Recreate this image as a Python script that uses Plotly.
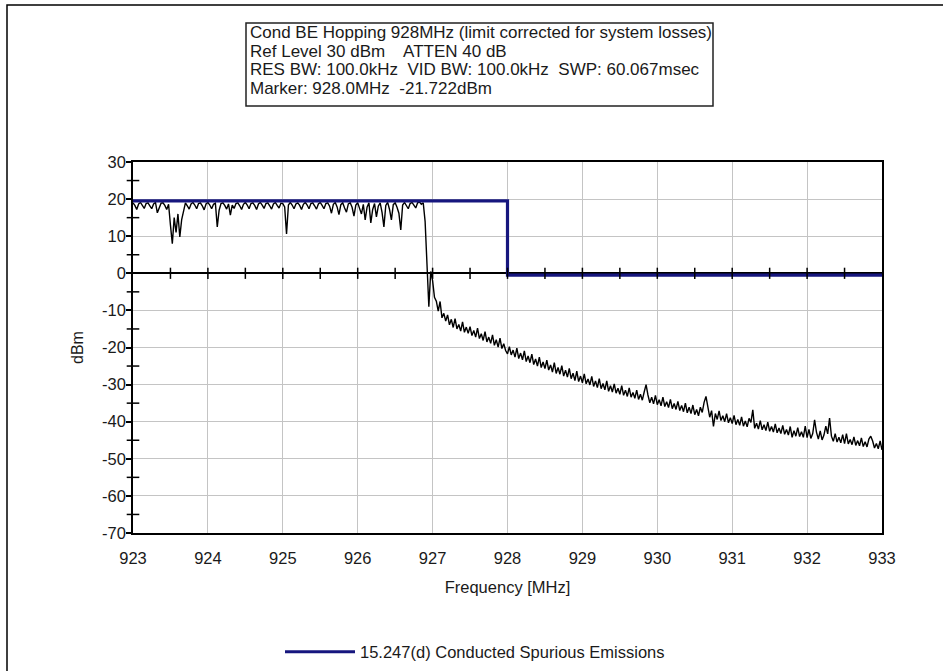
import numpy as np
import plotly.graph_objects as go

# ---------------- data ----------------
F_START, F_STOP, N_POINTS = 923.0, 933.0, 401
SPECTRUM_DBM = [
    # 923.000 - 923.475
    19.0, 18.3, 17.2, 18.7, 19.1, 18.4, 17.5, 18.8, 19.0, 18.2, 17.4, 18.7, 19.1, 16.3, 17.8, 18.9, 19.0, 18.3, 17.2, 18.6,
    # 923.500 - 923.975
    13.0, 8.0, 15.0, 11.0, 16.0, 9.8, 14.5, 17.2, 19.0, 18.2, 17.3, 18.7, 19.1, 18.4, 17.4, 18.8, 19.0, 18.2, 17.1, 18.7,
    # 924.000 - 924.475
    19.1, 18.4, 17.4, 18.6, 18.9, 12.5, 17.0, 18.8, 19.0, 18.3, 17.3, 18.7, 15.7, 18.4, 17.5, 18.8, 19.0, 18.2, 17.2, 18.6,
    # 924.500 - 924.975
    19.1, 18.4, 17.4, 18.8, 19.0, 18.3, 17.2, 18.7, 19.1, 18.4, 17.5, 18.8, 19.0, 18.2, 17.3, 18.7, 19.1, 18.3, 17.6, 18.9,
    # 925.000 - 925.475
    18.8, 17.9, 10.6, 18.4, 19.1, 18.4, 17.4, 18.7, 19.0, 18.3, 17.2, 18.6, 19.1, 18.4, 17.4, 18.8, 19.0, 18.2, 17.3, 18.7,
    # 925.500 - 925.975
    19.1, 18.3, 17.4, 18.8, 19.0, 18.1, 16.2, 18.6, 19.1, 17.9, 15.8, 18.5, 19.0, 17.6, 16.5, 18.7, 19.0, 17.8, 15.4, 18.4,
    # 926.000 - 926.475
    19.0, 17.5, 16.0, 18.6, 14.4, 17.8, 19.0, 13.6, 17.2, 18.8, 15.2, 18.1, 19.0, 16.4, 12.5, 18.3, 19.1, 17.2, 14.4, 18.5,
    # 926.500 - 926.975
    19.0, 17.8, 16.2, 11.7, 18.4, 19.1, 18.2, 17.4, 18.8, 19.1, 18.4, 17.6, 19.0, 19.2, 18.6, 19.0, 14.0, 3.5, -9.0, 0.5,
    # 927.000 - 927.475
    -2.0, -6.5, -7.5, -10.2, -7.6, -12.0, -10.8, -12.9, -11.2, -13.9, -12.4, -14.6, -12.2, -15.0, -13.8, -15.6, -13.1, -15.9, -14.5, -16.2,
    # 927.500 - 927.975
    -14.4, -16.8, -15.4, -17.2, -14.8, -17.6, -16.3, -18.1, -15.7, -18.5, -17.2, -18.9, -16.6, -19.4, -17.9, -19.9, -17.5, -20.3, -19.0, -20.8,
    # 928.000 - 928.475
    -21.7, -19.8, -22.0, -20.7, -22.6, -20.2, -23.0, -21.5, -23.3, -20.9, -23.8, -22.3, -24.1, -21.8, -24.6, -23.1, -25.0, -22.6, -25.4, -23.9,
    # 928.500 - 928.975
    -25.7, -23.4, -26.1, -24.7, -26.6, -24.1, -27.0, -25.4, -27.2, -24.9, -27.7, -26.1, -28.0, -25.6, -28.4, -26.9, -28.9, -26.4, -29.2, -27.7,
    # 929.000 - 929.475
    -29.5, -27.1, -29.8, -28.5, -30.1, -27.8, -30.5, -29.0, -30.8, -28.4, -31.1, -29.7, -31.4, -29.0, -31.8, -30.3, -32.0, -29.8, -32.3, -31.0,
    # 929.500 - 929.975
    -32.6, -30.3, -32.9, -31.5, -33.2, -30.9, -33.4, -32.1, -33.7, -31.5, -34.0, -32.6, -34.2, -32.0, -30.0, -32.8, -34.9, -33.4, -35.2, -32.9,
    # 930.000 - 930.475
    -35.4, -34.1, -35.7, -33.4, -35.9, -34.6, -36.2, -34.0, -36.5, -35.1, -36.7, -34.5, -37.0, -35.6, -37.3, -35.0, -37.6, -36.1, -37.8, -35.5,
    # 930.500 - 930.975
    -38.1, -36.7, -38.4, -36.1, -37.5, -34.8, -33.2, -36.0, -38.8, -37.0, -41.3, -37.8, -39.4, -37.1, -39.7, -38.4, -40.0, -37.8, -40.3, -38.9,
    # 931.000 - 931.475
    -40.5, -38.3, -40.8, -39.4, -41.0, -38.7, -41.2, -39.8, -41.4, -39.1, -40.2, -36.8, -41.8, -40.4, -42.0, -39.7, -42.2, -40.8, -42.4, -40.1,
    # 931.500 - 931.975
    -42.6, -41.3, -42.8, -40.6, -43.0, -41.7, -43.2, -41.0, -43.4, -42.1, -43.6, -41.3, -44.2, -42.4, -43.9, -41.6, -44.0, -42.7, -44.2, -41.2,
    # 932.000 - 932.475
    -44.3, -42.1, -44.5, -43.2, -39.5, -42.8, -44.7, -42.5, -44.9, -43.6, -41.2, -43.3, -39.0, -43.9, -45.3, -43.2, -45.5, -44.2, -45.7, -43.5,
    # 932.500 - 932.975
    -45.9, -43.2, -46.0, -44.8, -46.2, -44.1, -46.4, -45.1, -46.5, -44.4, -46.7, -45.4, -46.8, -44.7, -43.9, -45.2, -47.1, -45.9, -47.3, -45.2,
    # 933.000
    -47.6,
]
FREQ_MHZ = np.linspace(F_START, F_STOP, N_POINTS)

LIMIT_FREQ = [923.0, 928.0, 928.0, 933.0]
LIMIT_DBM = [19.5, 19.5, -0.5, -0.5]
LIMIT_NAME = "15.247(d) Conducted Spurious Emissions"

X_TICKS = [923, 924, 925, 926, 927, 928, 929, 930, 931, 932, 933]
Y_TICKS = [30, 20, 10, 0, -10, -20, -30, -40, -50, -60, -70]
X_HALF_TICKS = [923.5, 924, 924.5, 925, 925.5, 926, 926.5, 927, 927.5, 928, 928.5,
                929, 929.5, 930, 930.5, 931, 931.5, 932, 932.5]
Y_MINOR_TICKS = [25, 15, 5, -5, -15, -25, -35, -45, -55, -65]

INFO_LINES = [
    "Cond BE Hopping 928MHz (limit corrected for system losses)",
    "Ref Level 30 dBm    ATTEN 40 dB",
    "RES BW: 100.0kHz  VID BW: 100.0kHz  SWP: 60.067msec",
    "Marker: 928.0MHz  -21.722dBm",
]

# ---------------- layout geometry (pixels) ----------------
W, H = 943, 671
L, R, T, B = 133, 61, 162, 138
PW, PH = W - L - R, H - T - B


def px(xp):
    return (xp - L) / PW


def py(yp):
    return (H - B - yp) / PH


FONT = "Liberation Sans, Arial, sans-serif"
NAVY = "#16167e"

fig = go.Figure()

fig.add_trace(go.Scatter(
    x=FREQ_MHZ, y=SPECTRUM_DBM, mode="lines",
    line=dict(color="black", width=1.4), showlegend=False, hoverinfo="skip"))

fig.add_trace(go.Scatter(
    x=LIMIT_FREQ, y=LIMIT_DBM, mode="lines", name=LIMIT_NAME,
    line=dict(color=NAVY, width=3.2)))

# tick marks on the zero line
fig.add_trace(go.Scatter(
    x=X_HALF_TICKS, y=[0] * len(X_HALF_TICKS), mode="markers",
    marker=dict(symbol="line-ns", size=8, line=dict(color="black", width=1.5)),
    showlegend=False, hoverinfo="skip"))

# minor ticks crossing the left axis
fig.add_trace(go.Scatter(
    x=[F_START] * len(Y_MINOR_TICKS), y=Y_MINOR_TICKS, mode="markers",
    marker=dict(symbol="line-ew", size=9, line=dict(color="black", width=1.5)),
    showlegend=False, hoverinfo="skip", cliponaxis=False))

fig.update_layout(
    width=W, height=H,
    margin=dict(l=L, r=R, t=T, b=B, autoexpand=False),
    paper_bgcolor="white", plot_bgcolor="white",
    font=dict(family=FONT, size=16, color="#1a1a1a"),
    showlegend=True,
    legend=dict(x=px(280), y=py(652), xanchor="left", yanchor="middle",
                font=dict(size=16.5, family=FONT, color="#1a1a1a"),
                bgcolor="rgba(0,0,0,0)", itemwidth=70),
)

fig.update_xaxes(
    range=[F_START, F_STOP], tickvals=X_TICKS, ticktext=[str(v) for v in X_TICKS],
    showgrid=True, gridcolor="#c4c4c4", gridwidth=1,
    showline=True, linecolor="black", linewidth=1.5, mirror=True,
    ticks="outside", ticklen=9, tickcolor="rgba(0,0,0,0)",
    zeroline=False,
    title=dict(text="Frequency [MHz]", standoff=16, font=dict(size=16.5)),
    tickfont=dict(size=16.5),
)
fig.update_yaxes(
    range=[-70, 30], tickvals=Y_TICKS, ticktext=[str(v) for v in Y_TICKS],
    showgrid=True, gridcolor="#c4c4c4", gridwidth=1,
    showline=True, linecolor="black", linewidth=1.5, mirror=True,
    ticks="outside", ticklen=5, tickcolor="black", tickwidth=1.5,
    ticklabelstandoff=-3,
    zeroline=True, zerolinecolor="black", zerolinewidth=1.5,
    title=dict(text="dBm", standoff=14, font=dict(size=16)),
    tickfont=dict(size=16.5),
)

# outer frame (only left/top edges fall inside the picture)
fig.add_shape(type="rect", xref="paper", yref="paper",
              x0=px(7), x1=px(1100), y0=py(800), y1=py(5),
              line=dict(color="black", width=1.5), layer="below")

# info box
fig.add_shape(type="rect", xref="paper", yref="paper",
              x0=px(246), x1=px(713), y0=py(106), y1=py(23),
              line=dict(color="#222", width=1.5), fillcolor="white")
for i, line in enumerate(INFO_LINES):
    fig.add_annotation(xref="paper", yref="paper", x=px(248), y=py(32.5 + 18.5 * i),
                       xanchor="left", yanchor="middle", text=line, showarrow=False,
                       font=dict(size=17, family=FONT, color="#1a1a1a"))

fig.write_html("out.html")
